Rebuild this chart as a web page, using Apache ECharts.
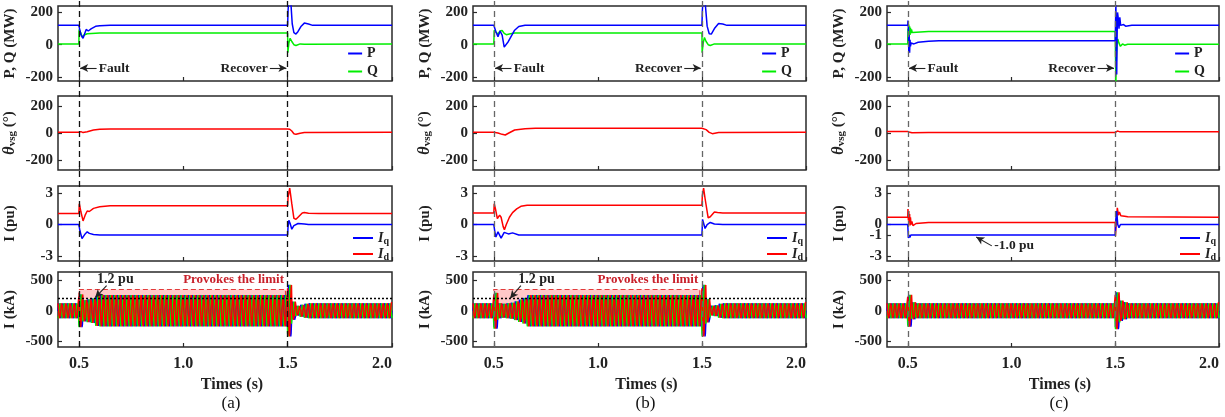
<!DOCTYPE html>
<html>
<head>
<meta charset="utf-8">
<script src="https://cdn.jsdelivr.net/npm/echarts@6/dist/echarts.min.js"></script>
<style>
  html, body { margin: 0; padding: 0; background: #fff; }
  #chart { width: 1225px; height: 417px; }
</style>
</head>
<body>
<div id="chart"></div>
<script>
// ---------------- data ----------------
const panelTags = ['(a)', '(b)', '(c)'];
const timeTicks = [0.5, 1.0, 1.5, 2.0];
const eventTimes = [0.5, 1.5];
const pqTicks = [-200, 0, 200];
const thetaTicks = [-200, 0, 200];
const iPuTicks = [[-3, 0, 3], [-3, 0, 3], [-3, -1, 0, 3]];
const iKaTicks = [-500, 0, 500];
const limitLevel = 200;          // 1.2 pu current limit (kA)
const limitBand = [90, 345];      // region where the limit is provoked (kA)

// active / reactive power (MW): [time s, value]
const pA = [[0.4,120],[0.5,120],[0.503,100],[0.51,62],[0.52,40],[0.528,70],[0.535,95],[0.545,85],[0.56,100],[0.58,114],[0.6,118],[0.65,120],[1.5,120],[1.502,210],[1.508,330],[1.515,270],[1.522,130],[1.53,75],[1.54,66],[1.55,82],[1.565,115],[1.58,134],[1.6,128],[1.62,120],[2.0,120]];
const qA = [[0.4,5],[0.5,5],[0.501,95],[0.51,70],[0.517,45],[0.525,60],[0.54,68],[0.6,72],[1.5,72],[1.501,-50],[1.506,10],[1.512,40],[1.52,20],[1.53,0],[1.54,-5],[1.56,5],[1.58,3],[2.0,5]];
const pB = [[0.4,120],[0.5,120],[0.502,130],[0.51,80],[0.52,50],[0.53,85],[0.54,60],[0.55,-15],[0.555,-20],[0.57,20],[0.6,90],[0.62,113],[0.65,120],[1.5,120],[1.502,210],[1.508,330],[1.515,270],[1.525,115],[1.535,68],[1.545,66],[1.56,100],[1.58,132],[1.6,128],[1.62,120],[2.0,120]];
const qB = [[0.4,5],[0.5,5],[0.502,90],[0.51,80],[0.52,65],[0.53,85],[0.54,88],[0.55,70],[0.56,62],[0.58,68],[0.6,72],[1.5,72],[1.501,-50],[1.506,10],[1.512,45],[1.52,20],[1.53,0],[1.54,-5],[1.56,5],[2.0,5]];
const pC = [[0.4,120],[0.5,120],[0.501,150],[0.503,100],[0.505,-40],[0.507,60],[0.509,-50],[0.511,30],[0.513,-10],[0.516,10],[0.52,0],[0.53,5],[0.55,15],[0.6,22],[0.65,25],[1.5,25],[1.501,100],[1.503,260],[1.505,-100],[1.507,-185],[1.509,60],[1.511,200],[1.514,170],[1.518,100],[1.522,170],[1.526,120],[1.53,110],[1.54,125],[1.55,115],[1.58,120],[2.0,120]];
const qC = [[0.4,5],[0.5,5],[0.501,100],[0.503,40],[0.505,125],[0.507,50],[0.509,115],[0.511,60],[0.513,105],[0.515,70],[0.518,95],[0.522,75],[0.53,85],[0.6,82],[1.5,82],[1.501,-60],[1.503,-230],[1.505,-100],[1.508,0],[1.512,35],[1.518,10],[1.525,-10],[1.535,5],[1.545,-3],[1.56,3],[2.0,3]];

// VSG angle (deg)
const thA = [[0.4,5],[0.5,5],[0.51,10],[0.52,3],[0.54,10],[0.57,22],[0.6,28],[0.65,30],[1.5,30],[1.51,28],[1.52,15],[1.53,-5],[1.54,-10],[1.56,-2],[1.58,3],[2.0,5]];
const thB = [[0.4,5],[0.5,5],[0.52,0],[0.54,-10],[0.555,-15],[0.57,-2],[0.6,22],[0.65,32],[0.7,35],[1.5,35],[1.52,25],[1.535,5],[1.55,-5],[1.58,4],[2.0,5]];
const thC = [[0.4,12],[0.5,12],[0.51,5],[0.52,2],[0.6,3],[1.5,3],[1.51,15],[1.52,10],[1.55,10],[2.0,10]];

// dq currents (pu)
const iqA = [[0.4,0],[0.5,0],[0.505,-0.6],[0.515,-1.35],[0.53,-0.9],[0.54,-0.7],[0.55,-0.85],[0.57,-0.95],[0.6,-1.0],[1.5,-1.0],[1.502,-0.2],[1.506,0.4],[1.512,0.1],[1.52,-0.45],[1.53,-0.1],[1.55,0.1],[1.58,0.05],[1.6,0],[2.0,0]];
const idA = [[0.4,1.05],[0.5,1.05],[0.502,2.0],[0.51,1.2],[0.52,0.35],[0.53,0.9],[0.54,1.3],[0.55,1.25],[0.57,1.55],[0.6,1.7],[0.65,1.8],[1.5,1.8],[1.502,2.6],[1.51,3.5],[1.52,2.0],[1.53,0.6],[1.54,0.5],[1.55,0.7],[1.57,1.1],[1.58,1.15],[1.6,1.08],[1.65,1.05],[2.0,1.05]];
const iqB = [[0.4,0],[0.5,0],[0.505,-0.7],[0.51,-1.2],[0.52,-0.7],[0.535,-1.3],[0.55,-0.75],[0.57,-0.9],[0.59,-0.8],[0.62,-1.0],[1.5,-1.0],[1.503,0.5],[1.515,-0.38],[1.525,0.0],[1.54,0.2],[1.56,0.05],[1.6,0],[2.0,0]];
const idB = [[0.4,1.1],[0.5,1.1],[0.502,2.0],[0.508,1.5],[0.517,0.56],[0.528,0.9],[0.535,0.7],[0.545,-0.2],[0.551,-0.5],[0.56,0.0],[0.575,0.7],[0.59,1.15],[0.61,1.5],[0.63,1.75],[0.66,1.85],[1.5,1.85],[1.502,2.8],[1.508,3.5],[1.515,2.5],[1.53,0.65],[1.54,0.75],[1.56,1.2],[1.575,1.15],[1.6,1.1],[2.0,1.1]];
const iqC = [[0.4,0],[0.5,0],[0.503,-1.3],[0.507,-1.0],[0.51,-1.25],[0.515,-1.0],[1.5,-1.0],[1.503,0.5],[1.507,1.3],[1.512,0.0],[1.518,-0.3],[1.525,0.0],[1.532,-0.15],[1.54,0.0],[2.0,0]];
const idC = [[0.4,0.7],[0.5,0.7],[0.501,1.5],[0.503,0.4],[0.505,1.3],[0.507,0.2],[0.509,1.0],[0.511,-0.1],[0.513,0.7],[0.516,0.0],[0.52,0.3],[0.525,-0.1],[0.54,0.1],[0.6,0.2],[1.5,0.2],[1.501,-1.1],[1.505,0.3],[1.51,1.6],[1.515,0.9],[1.52,1.2],[1.527,0.85],[1.535,1.0],[1.545,0.8],[1.56,0.75],[2.0,0.7]];

// three-phase output current: peak amplitude (kA) held from each listed time on
const ampA = [[0.40,140],[0.50,265],[0.52,200],[0.54,215],[0.56,230],[0.58,245],[0.60,255],[1.50,420],[1.52,170],[1.54,90],[1.56,110],[1.58,130],[1.60,140]];
const ampB = [[0.40,140],[0.50,290],[0.52,140],[0.54,130],[0.56,140],[0.58,150],[0.60,175],[0.62,210],[0.64,240],[0.66,255],[1.50,420],[1.52,220],[1.54,80],[1.56,100],[1.58,130],[1.60,140]];
const ampC = [[0.40,140],[0.50,260],[0.52,160],[0.54,140],[1.50,300],[1.52,190],[1.54,160],[1.56,140]];
// one 50 Hz cycle of a unit sine, 12 samples
const unitCycle = [0, 0.5, 0.866, 1, 0.866, 0.5, 0, -0.5, -0.866, -1, -0.866, -0.5];
const cyclePeriod = 0.02;
const tStart = 0.4, tEnd = 2.0;

// ---------------- helpers ----------------
function stepAmp(table, t) {
  let a = table[0][1];
  for (const [t0, v] of table) if (t0 <= t + 1e-9) a = v;
  return a;
}
function phaseWave(table, shift) {
  const n = unitCycle.length, out = [];
  const cycles = Math.round((tEnd - tStart) / cyclePeriod);
  for (let c = 0; c < cycles; c++) {
    const amp = stepAmp(table, tStart + c * cyclePeriod);
    for (let s = 0; s < n; s++) {
      out.push([tStart + (c * n + s) * cyclePeriod / n, amp * unitCycle[(s + shift) % n]]);
    }
  }
  out.push([tEnd, stepAmp(table, tEnd) * unitCycle[shift % n]]);
  return out;
}

const SERIF = '"Liberation Serif", "Times New Roman", serif';
const BLUE = '#0000ff', GREEN = '#00ee00', RED = '#ff0000';
const INK = '#222';

const cols = [
  { left: 58,  width: 334, dash: '#111', p: pA, q: qA, th: thA, iq: iqA, id: idA, amp: ampA },
  { left: 473, width: 333, dash: '#666', p: pB, q: qB, th: thB, iq: iqB, id: idB, amp: ampB },
  { left: 887, width: 332, dash: '#666', p: pC, q: qC, th: thC, iq: iqC, id: idC, amp: ampC }
];
const rows = [
  { top: 6,   height: 75, min: -225, max: 240 },
  { top: 96,  height: 74, min: -275, max: 275 },
  { top: 186, height: 75, min: -3.5, max: 3.7 },
  { top: 272, height: 75, min: -590, max: 630 }
];

const grid = [], xAxis = [], yAxis = [], series = [], legend = [], graphic = [];
const lineBase = { type: 'line', showSymbol: false, symbol: 'none', animation: false };
const labelFont = { fontFamily: SERIF, fontWeight: 'bold', color: INK };

cols.forEach((col, ci) => {
  const base = ci * 5;
  rows.forEach((row, ri) => {
    const gi = base + ri;
    grid.push({ left: col.left, top: row.top, width: col.width, height: row.height,
      show: true, borderColor: '#2a2a2a', borderWidth: 1.5, backgroundColor: 'transparent' });
    xAxis.push({
      gridIndex: gi, type: 'value', min: tStart, max: tEnd, position: 'bottom',
      axisLine: { show: false, onZero: false }, splitLine: { show: false },
      axisTick: { show: true, inside: true, length: 4, customValues: timeTicks, lineStyle: { color: '#2a2a2a', width: 1.2 } },
      axisLabel: ri === 3
        ? { show: true, customValues: timeTicks, formatter: v => v.toFixed(1), margin: 9, alignMaxLabel: 'right',
            ...labelFont, fontSize: 16 }
        : { show: false },
      name: ri === 3 ? 'Times (s)' : '', nameLocation: 'middle', nameGap: 30,
      nameTextStyle: { ...labelFont, fontSize: 16, padding: [0, 0, 0, 14] }
    });
    const ticks = ri === 0 ? pqTicks : ri === 1 ? thetaTicks : ri === 2 ? iPuTicks[ci] : iKaTicks;
    const names = ['P, Q (MW)', '{th|θ}{sub|vsg}{n| (°)}', 'I (pu)', 'I (kA)'];
    yAxis.push({
      gridIndex: gi, type: 'value', min: row.min, max: row.max, position: 'left',
      axisLine: { show: false, onZero: false }, splitLine: { show: false },
      axisTick: { show: true, inside: true, length: 4, customValues: ticks, lineStyle: { color: '#2a2a2a', width: 1.2 } },
      axisLabel: { customValues: ticks, margin: 5, ...labelFont, fontSize: 15 },
      name: names[ri], nameLocation: 'middle', nameGap: 40, nameRotate: 90,
      nameTextStyle: {
        ...labelFont, fontSize: 15,
        rich: {
          th: { fontFamily: SERIF, fontWeight: 'bold', fontStyle: 'italic', fontSize: 16, color: INK },
          sub: { fontFamily: SERIF, fontWeight: 'bold', fontSize: 11, color: INK, padding: [6, 0, 0, 0] },
          n: { fontFamily: SERIF, fontWeight: 'bold', fontSize: 15, color: INK }
        }
      }
    });
  });
  // full-height overlay for the fault / recovery instants
  const og = base + 4;
  grid.push({ left: col.left, top: 0, width: col.width, height: rows[3].top + rows[3].height, show: false });
  xAxis.push({ gridIndex: og, type: 'value', min: tStart, max: tEnd, show: false });
  yAxis.push({ gridIndex: og, type: 'value', min: 0, max: 1, show: false });
  series.push({
    ...lineBase, name: 'events', xAxisIndex: og, yAxisIndex: og, data: [], z: 20, silent: true,
    markLine: { symbol: ['none', 'none'], silent: true, animation: false, label: { show: false },
      lineStyle: { color: col.dash, type: [6, 4], width: 1.3 },
      data: eventTimes.map(t => ({ xAxis: t })) }
  });

  // row 1: P, Q with Fault / Recover arrows
  const annY = -145;
  series.push({ ...lineBase, name: 'P', xAxisIndex: base, yAxisIndex: base, data: col.p,
    lineStyle: { color: BLUE, width: 1.5 }, itemStyle: { color: BLUE }, z: 3,
    markLine: { silent: true, animation: false, symbol: ['none', 'arrow'], symbolSize: [6, 8], label: { show: false },
      lineStyle: { color: INK, type: 'solid', width: 1.1 },
      data: [
        [{ coord: [0.585, annY] }, { coord: [0.506, annY] }],
        [{ coord: [1.415, annY] }, { coord: [1.494, annY] }]
      ] },
    markPoint: { silent: true, animation: false, symbol: 'rect', symbolSize: 1, itemStyle: { color: 'transparent' },
      label: { ...labelFont, fontSize: 13.5 },
      data: [
        { coord: [0.588, annY], label: { show: true, position: 'right', distance: 1, formatter: 'Fault' } },
        { coord: [1.412, annY], label: { show: true, position: 'left', distance: 1, formatter: 'Recover' } }
      ] }
  });
  series.push({ ...lineBase, name: 'Q', xAxisIndex: base, yAxisIndex: base, data: col.q,
    lineStyle: { color: GREEN, width: 1.5 }, itemStyle: { color: GREEN }, z: 2 });

  // row 2: VSG angle
  series.push({ ...lineBase, name: 'theta', xAxisIndex: base + 1, yAxisIndex: base + 1, data: col.th,
    lineStyle: { color: RED, width: 1.5 } });

  // row 3: Iq, Id
  const iqSeries = { ...lineBase, name: 'Iq', xAxisIndex: base + 2, yAxisIndex: base + 2, data: col.iq,
    lineStyle: { color: BLUE, width: 1.5 }, itemStyle: { color: BLUE }, z: 3 };
  if (ci === 2) {
    iqSeries.markLine = { silent: true, animation: false, symbol: ['none', 'arrow'], symbolSize: [6, 8], label: { show: false },
      lineStyle: { color: INK, type: 'solid', width: 1.1 },
      data: [[{ coord: [0.905, -2.05] }, { coord: [0.83, -1.2] }]] };
    iqSeries.markPoint = { silent: true, animation: false, symbol: 'rect', symbolSize: 1, itemStyle: { color: 'transparent' },
      label: { ...labelFont, fontSize: 13.5 },
      data: [{ coord: [0.91, -2.05], label: { show: true, position: 'right', distance: 1, formatter: '-1.0 pu' } }] };
  }
  series.push(iqSeries);
  series.push({ ...lineBase, name: 'Id', xAxisIndex: base + 2, yAxisIndex: base + 2, data: col.id,
    lineStyle: { color: RED, width: 1.5 }, itemStyle: { color: RED }, z: 2 });

  // row 4: three-phase currents
  [[BLUE, 0, 'ia'], [GREEN, 8, 'ib'], [RED, 4, 'ic']].forEach(([c, sh, nm], k) => {
    series.push({ ...lineBase, name: nm, xAxisIndex: base + 3, yAxisIndex: base + 3,
      data: phaseWave(col.amp, sh), lineStyle: { color: c, width: 1.5 }, z: 2 + k });
  });
  if (ci < 2) {
    const txtX = ci === 0 ? 0.675 : 0.705;
    const arrow = ci === 0 ? [[0.633, 410], [0.578, 215]] : [[0.63, 410], [0.578, 200]];
    series.push({ ...lineBase, name: 'limit', xAxisIndex: base + 3, yAxisIndex: base + 3, data: [], z: 8, silent: true,
      markArea: { silent: true, animation: false,
        itemStyle: { color: 'rgba(255,110,110,0.38)', borderColor: '#e23b3b', borderType: [5, 3], borderWidth: 1.2 },
        data: [[{ coord: [0.5, limitBand[0]] }, { coord: [1.49, limitBand[1]] }]] },
      markLine: { silent: true, animation: false, symbol: ['none', 'none'], label: { show: false },
        lineStyle: { color: '#000', type: [2, 2], width: 1.4 },
        data: [{ yAxis: limitLevel }] }
    });
    series.push({ ...lineBase, name: 'limitNote', xAxisIndex: base + 3, yAxisIndex: base + 3, data: [], z: 9, silent: true,
      markLine: { silent: true, animation: false, symbol: ['none', 'arrow'], symbolSize: [6, 8], label: { show: false },
        lineStyle: { color: INK, type: 'solid', width: 1.1 },
        data: [[{ coord: arrow[0] }, { coord: arrow[1] }]] },
      markPoint: { silent: true, animation: false, symbol: 'rect', symbolSize: 1, itemStyle: { color: 'transparent' },
        label: { ...labelFont, fontSize: 14 },
        data: [
          { coord: [txtX, 505], label: { show: true, position: 'inside', formatter: '1.2 pu' } },
          { coord: [1.485, 505], label: { show: true, position: 'left', distance: 0, formatter: 'Provokes the limit',
            color: '#c8202a', fontSize: 13 } }
        ] }
    });
  }

  // legends
  const gridRight = col.left + col.width;
  legend.push({
    orient: 'vertical', right: 1225 - gridRight + 14, top: 46, icon: 'rect', itemWidth: 14, itemHeight: 2, itemGap: 3,
    data: ['P', 'Q'], textStyle: { ...labelFont, fontSize: 14, lineHeight: 15 }, selectedMode: false, padding: 0
  });
  legend.push({
    orient: 'vertical', right: 1225 - gridRight + 3, top: 230, icon: 'rect', itemWidth: 20, itemHeight: 2, itemGap: 0,
    data: ['Iq', 'Id'], selectedMode: false, padding: 0,
    formatter: n => '{i|I}{s|' + n.slice(1) + '}',
    textStyle: { ...labelFont, fontSize: 14, lineHeight: 13,
      rich: { i: { fontFamily: SERIF, fontWeight: 'bold', fontStyle: 'italic', fontSize: 14, color: INK, lineHeight: 13 },
              s: { fontFamily: SERIF, fontWeight: 'bold', fontSize: 10, color: INK, lineHeight: 13, padding: [6, 0, 0, 0] } } }
  });

  graphic.push({ type: 'text', x: col.left + col.width / 2 + 6, y: 404,
    style: { text: panelTags[ci], font: '17px ' + SERIF, fill: '#111', textAlign: 'center', textVerticalAlign: 'middle' } });
});

const chart = echarts.init(document.getElementById('chart'), null, { renderer: 'canvas' });
chart.setOption({ animation: false, backgroundColor: '#fff', grid, xAxis, yAxis, series, legend, graphic });
</script>
</body>
</html>
